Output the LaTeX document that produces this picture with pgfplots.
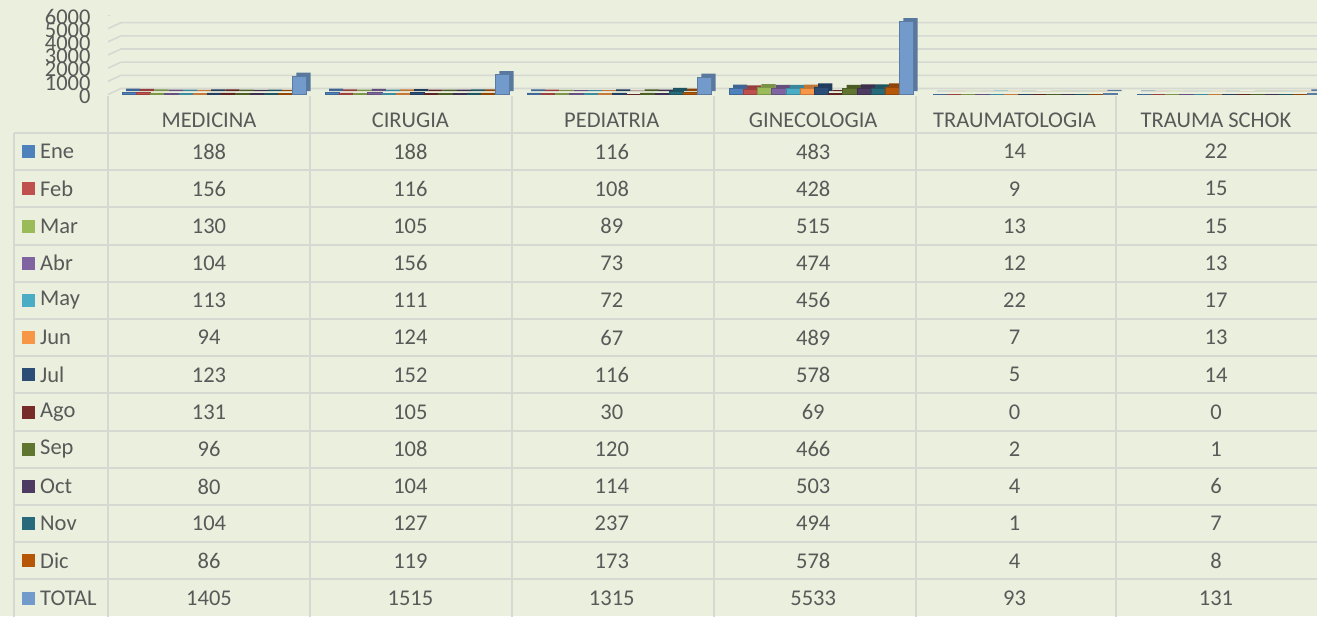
\documentclass[border=0pt]{standalone}
\usepackage{pgfplots}
\pgfplotsset{compat=1.18}
\usepackage{pgfplotstable}
\usepackage{fontspec}
\setmainfont{Carlito}
\definecolor{bg}{RGB}{235,240,222}
\definecolor{gridc}{RGB}{214,216,210}
\definecolor{txt}{RGB}{89,89,89}
\definecolor{cEne}{HTML}{4F81BD}
\definecolor{cFeb}{HTML}{C0504D}
\definecolor{cMar}{HTML}{9BBB59}
\definecolor{cAbr}{HTML}{8064A2}
\definecolor{cMay}{HTML}{4BACC6}
\definecolor{cJun}{HTML}{F79646}
\definecolor{cJul}{HTML}{2C4D75}
\definecolor{cAgo}{HTML}{772C2A}
\definecolor{cSep}{HTML}{5F7530}
\definecolor{cOct}{HTML}{4D3B62}
\definecolor{cNov}{HTML}{276A7C}
\definecolor{cDic}{HTML}{B65708}
\definecolor{cTOTAL}{HTML}{729ACA}

\pgfplotstableread{
gs Ene Feb Mar Abr May Jun Jul Ago Sep Oct Nov Dic TOTAL
122 188 156 130 104 113 94 123 131 96 80 104 86 1405
325 188 116 105 156 111 124 152 105 108 104 127 119 1515
527 116 108 89 73 72 67 116 30 120 114 237 173 1315
729 483 428 515 474 456 489 578 69 466 503 494 578 5533
933 14 9 13 12 22 7 5 0 2 4 1 4 93
1137 22 15 15 13 17 13 14 0 1 6 7 8 131
}\data

\newcommand\backbar[2]{\addplot[fill=c#2!78!black, draw=none, xshift=4pt, yshift=3.5pt] table[x expr=\thisrow{gs}+7.1+14.2*#1, y=#2]{\data};}
\newcommand\frontbar[2]{\addplot[fill=c#2, draw=c#2!80!black, line width=0.5pt] table[x expr=\thisrow{gs}+7.1+14.2*#1, y=#2]{\data};}

\begin{document}
\begin{tikzpicture}[x=1pt,y=1pt]
\fill[bg] (0,0) rectangle (1317,-616);
\begin{scope}[draw=gridc, line width=2pt]
\foreach \k in {0,...,12} \draw (14,{-(133+37.2*\k)}) -- (1317,{-(133+37.2*\k)});
\draw (14,-133) -- (14,-620);
\foreach \x in {108,310,512,714,916,1116} \draw (\x,-96) -- (\x,-620);
\end{scope}

\begin{scope}[font=\fontsize{22.5}{27}\selectfont, text=txt]
\foreach \c [count=\g from 0] in {MEDICINA,CIRUGIA,PEDIATRIA,GINECOLOGIA,TRAUMATOLOGIA,TRAUMA SCHOK}
  \node at ({209+201.4*\g},-120) {\c};
\foreach \m [count=\k from 0] in {Ene,Feb,Mar,Abr,May,Jun,Jul,Ago,Sep,Oct,Nov,Dic,TOTAL} {
  \fill[c\m] (22,{-(151.6+37.2*\k)-6.5}) rectangle (35,{-(151.6+37.2*\k)+6.5});
  \node[anchor=west, inner sep=0pt] at (40,{-(151.6+37.2*\k)}) {\m};
  \foreach \g in {0,...,5} {
    \pgfplotstablegetelem{\g}{\m}\of\data
    \node at ({209+201.4*\g},{-(151.6+37.2*\k)}) {\pgfplotsretval};
  }
}
\end{scope}

\begin{axis}[at={(108pt,-94.5pt)}, anchor=south west, scale only axis,
  width=1209pt, height=79pt,
  xmin=108, xmax=1317, ymin=0, ymax=6000,
  ybar, bar shift=0pt, bar width=14.2,
  axis line style={draw=none}, major tick length=0pt,
  xtick=\empty, ytick={0,1000,...,6000},
  /pgf/number format/assume math mode=true,
  /pgf/number format/1000 sep={},
  yticklabel style={font=\fontsize{22.5}{22}\selectfont, text=txt, xshift=-14pt, yshift=-1.5pt},
]
\pgfplotsinvokeforeach{0,1000,2000,3000,4000,5000,6000}{
  \draw[gridc, line width=1.6pt] (axis cs:108,#1) -- ([shift={(13pt,6pt)}]axis cs:108,#1) -- ([yshift=6pt]axis cs:1317,#1);
}
\backbar{0}{Ene}\backbar{1}{Feb}\backbar{2}{Mar}\backbar{3}{Abr}\backbar{4}{May}
\backbar{5}{Jun}\backbar{6}{Jul}\backbar{7}{Ago}\backbar{8}{Sep}\backbar{9}{Oct}
\backbar{10}{Nov}\backbar{11}{Dic}\backbar{12}{TOTAL}
\frontbar{0}{Ene}\frontbar{1}{Feb}\frontbar{2}{Mar}\frontbar{3}{Abr}\frontbar{4}{May}
\frontbar{5}{Jun}\frontbar{6}{Jul}\frontbar{7}{Ago}\frontbar{8}{Sep}\frontbar{9}{Oct}
\frontbar{10}{Nov}\frontbar{11}{Dic}\frontbar{12}{TOTAL}
\end{axis}
\pgfresetboundingbox
\useasboundingbox (0,0) rectangle (1317,-616);
\end{tikzpicture}
\end{document}
